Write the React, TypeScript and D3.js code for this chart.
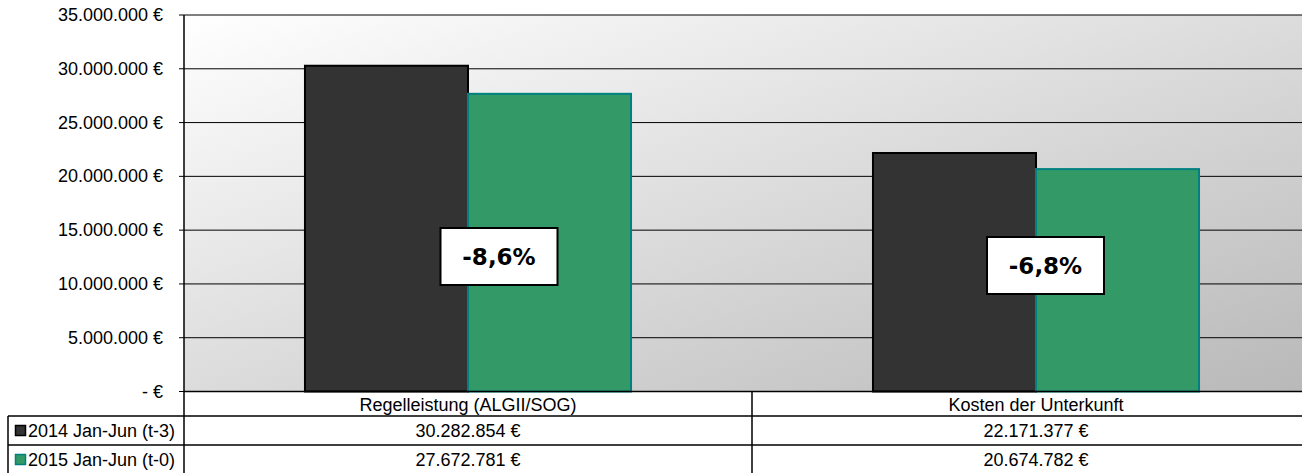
import React from "react";
import * as d3 from "d3";

// ---- data ----
const categories = ["Regelleistung (ALGII/SOG)", "Kosten der Unterkunft"];
const seriesNames = ["2014 Jan-Jun (t-3)", "2015 Jan-Jun (t-0)"];
const values2014 = [30282854, 22171377];
const values2015 = [27672781, 20674782];
const yTicks = [0, 5000000, 10000000, 15000000, 20000000, 25000000, 30000000, 35000000];

// ---- layout ----
const W = 1302;
const H = 473;
const PLOT_L = 184;
const PLOT_R = 1320;
const PLOT_T = 15;
const PLOT_B = 391.5;
const ROW_CAT_B = 416;
const ROW1_B = 445;
const ROW2_B = 474;
const TABLE_L = 8;
const FONT = "'Liberation Sans', Arial, sans-serif";
const FS = 18;
const colors = ["#333333", "#339966"];
const strokes = ["#000000", "#008080"];
const labelLayout = [
  { dx: 31, cy: 256.5 },
  { dx: 9.5, cy: 265.5 },
];

const locale = d3.formatLocale({
  decimal: ",",
  thousands: ".",
  grouping: [3],
  currency: ["", " €"],
  minus: "-",
});
const fmtMoney = (v: number) => (v === 0 ? "- €" : locale.format(",.0f")(v) + " €");
const fmtPct = locale.format(".1%");

export default function App() {
  const series = [values2014, values2015];
  const y = d3.scaleLinear().domain([0, 35000000]).range([PLOT_B, PLOT_T]);
  const x0 = d3.scaleBand<string>().domain(categories).range([PLOT_L, PLOT_R]).padding(0);
  const x1 = d3
    .scaleBand<string>()
    .domain(seriesNames)
    .range([0, x0.bandwidth()])
    .paddingInner(0)
    .paddingOuter(0.742);

  return (
    <svg
      width={W}
      height={H}
      style={{ position: "absolute", left: 0, top: 0, display: "block" }}
      fontFamily={FONT}
    >
      <defs>
        <linearGradient id="bg" x1="0" y1="0" x2="1" y2="1">
          <stop offset="0" stopColor="#ffffff" />
          <stop offset="1" stopColor="#b8b8b8" />
        </linearGradient>
      </defs>
      <rect x={0} y={0} width={W} height={H} fill="#ffffff" />
      <rect x={PLOT_L} y={PLOT_T} width={PLOT_R - PLOT_L} height={PLOT_B - PLOT_T} fill="url(#bg)" />

      {/* gridlines + ticks + labels */}
      {yTicks.map((t) => (
        <g key={t}>
          {t > 0 && (
            <line x1={PLOT_L} x2={PLOT_R} y1={y(t)} y2={y(t)} stroke="#000" strokeWidth={1} />
          )}
          <line x1={PLOT_L - 5} x2={PLOT_L} y1={y(t)} y2={y(t)} stroke="#000" strokeWidth={1} />
          <text
            x={163}
            y={y(t)}
            textAnchor="end"
            dominantBaseline="central"
            fontSize={FS}
            fill="#000"
          >
            {fmtMoney(t)}
          </text>
        </g>
      ))}

      {/* bars */}
      {categories.map((c, ci) =>
        seriesNames.map((s, si) => {
          const v = series[si][ci];
          const bx = (x0(c) as number) + (x1(s) as number);
          return (
            <rect
              key={c + s}
              x={bx}
              y={y(v)}
              width={x1.bandwidth()}
              height={PLOT_B - y(v)}
              fill={colors[si]}
              stroke={strokes[si]}
              strokeWidth={2}
            />
          );
        })
      )}

      {/* axis lines */}
      <line x1={PLOT_L} x2={PLOT_L} y1={PLOT_T} y2={ROW2_B} stroke="#000" strokeWidth={1.5} />
      <line x1={PLOT_L} x2={PLOT_R} y1={PLOT_B} y2={PLOT_B} stroke="#000" strokeWidth={1.5} />

      {/* change labels */}
      {categories.map((c, ci) => {
        const pct = (values2015[ci] - values2014[ci]) / values2014[ci];
        const cx = (x0(c) as number) + x0.bandwidth() / 2 + labelLayout[ci].dx;
        const cy = labelLayout[ci].cy;
        const bw = 117;
        const bh = 57;
        return (
          <g key={"lbl" + c}>
            <rect
              x={cx - bw / 2}
              y={cy - bh / 2}
              width={bw}
              height={bh}
              fill="#fff"
              stroke="#000"
              strokeWidth={2}
            />
            <text
              x={cx}
              y={cy}
              textAnchor="middle"
              dominantBaseline="central"
              fontFamily="'DejaVu Sans', sans-serif"
              fontWeight="bold"
              fontSize={23}
              fill="#000"
            >
              {fmtPct(pct)}
            </text>
          </g>
        );
      })}

      {/* data table */}
      <g stroke="#000" strokeWidth={1.5}>
        <line x1={TABLE_L} x2={PLOT_R} y1={ROW_CAT_B} y2={ROW_CAT_B} />
        <line x1={TABLE_L} x2={PLOT_R} y1={ROW1_B} y2={ROW1_B} />
        <line x1={TABLE_L} x2={PLOT_R} y1={ROW2_B} y2={ROW2_B} />
        <line x1={TABLE_L} x2={TABLE_L} y1={ROW_CAT_B} y2={ROW2_B} />
        {categories.map((c, ci) =>
          ci > 0 ? (
            <line key={"v" + c} x1={x0(c) as number} x2={x0(c) as number} y1={PLOT_B} y2={ROW2_B} />
          ) : null
        )}
      </g>
      {categories.map((c) => (
        <text
          key={"cat" + c}
          x={(x0(c) as number) + x0.bandwidth() / 2}
          y={(PLOT_B + ROW_CAT_B) / 2 + 1}
          textAnchor="middle"
          dominantBaseline="central"
          fontSize={FS}
          fill="#000"
        >
          {c}
        </text>
      ))}
      {seriesNames.map((s, si) => {
        const top = si === 0 ? ROW_CAT_B : ROW1_B;
        const bot = si === 0 ? ROW1_B : ROW2_B;
        const cy = (top + bot) / 2;
        return (
          <g key={"row" + s}>
            <rect
              x={15.5}
              y={cy - 5}
              width={10}
              height={10}
              fill={colors[si]}
              stroke={strokes[si]}
              strokeWidth={1.5}
            />
            <text x={28} y={cy} dominantBaseline="central" fontSize={FS} fill="#000">
              {s}
            </text>
            {categories.map((c, ci) => (
              <text
                key={s + c}
                x={(x0(c) as number) + x0.bandwidth() / 2}
                y={cy}
                textAnchor="middle"
                dominantBaseline="central"
                fontSize={FS}
                fill="#000"
              >
                {fmtMoney(series[si][ci])}
              </text>
            ))}
          </g>
        );
      })}
    </svg>
  );
}
